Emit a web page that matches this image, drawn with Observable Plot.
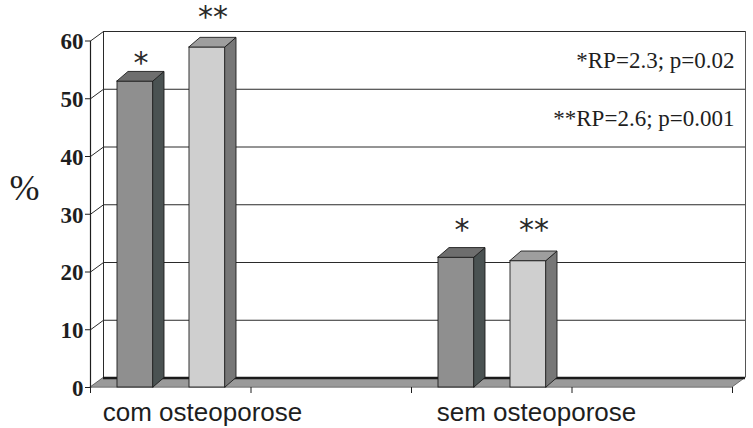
<!DOCTYPE html>
<html>
<head>
<meta charset="utf-8">
<script src="https://cdn.jsdelivr.net/npm/d3@7"></script>
<script src="https://cdn.jsdelivr.net/npm/@observablehq/plot@0.6"></script>
<style>
  html, body { margin: 0; padding: 0; background: #fff; }
  #chart svg { display: block; }
</style>
</head>
<body>
<div id="chart"></div>
<script>
// ---- data ----
const categories = ["com osteoporose", "sem osteoporose"];
const seriesMarks = ["*", "**"];
const seriesDark = [53.0, 22.5];   // first bar of each group (dark grey)
const seriesLight = [58.9, 21.9];  // second bar of each group (light grey)
const yTicks = [0, 10, 20, 30, 40, 50, 60];
const notes = ["*RP=2.3; p=0.02", "**RP=2.6; p=0.001"];

// ---- layout constants (style, not data) ----
const SLOTS = 4;                 // two category slots of width 2
const PX_PER_SLOT = 642 / SLOTS;
const PX_PER_UNIT = 346.5 / 60;
const WDX = 13 / PX_PER_SLOT, WDY = 9.5 / PX_PER_UNIT;   // wall depth
const BDX = 11 / PX_PER_SLOT, BDY = 9.5 / PX_PER_UNIT;   // bar depth
const barOffset = [27 / PX_PER_SLOT, 99 / PX_PER_SLOT];
const barWidth = 36 / PX_PER_SLOT;
const starOffset = [[4.0, 6.0], [5.5, 6.1]];
const labelCenter = [112 / PX_PER_SLOT, 125 / PX_PER_SLOT];
const colors = [
  {front: "#8f8f8f", top: "#6e6e6e", side: "#4a5252"},
  {front: "#cfcfcf", top: "#9e9e9e", side: "#777777"}
];

const seriesValues = [seriesDark, seriesLight];
const bars = [];
categories.forEach((c, i) => {
  seriesValues.forEach((vals, s) => {
    const x1 = 2 * i + barOffset[s];
    bars.push({cat: c, i, s, v: vals[i], x1, x2: x1 + barWidth, id: i + "-" + s});
  });
});

const barMarks = [];
[0, 1].forEach(s => {
  const bs = bars.filter(b => b.s === s);
  const side = bs.flatMap(b => [
    {id: b.id, x: b.x2, y1: 0, y2: b.v},
    {id: b.id, x: b.x2 + BDX, y1: BDY, y2: b.v + BDY}
  ]);
  const top = bs.flatMap(b => [
    {id: b.id, y: b.v, x1: b.x1, x2: b.x2},
    {id: b.id, y: b.v + BDY, x1: b.x1 + BDX, x2: b.x2 + BDX}
  ]);
  barMarks.push(
    Plot.rect(bs, {x1: "x1", x2: "x2", y1: 0, y2: "v", fill: colors[s].front, stroke: "#1e1e1e", strokeWidth: 0.9}),
    Plot.areaY(side, {x: "x", y1: "y1", y2: "y2", z: "id", fill: colors[s].side, stroke: "#1e1e1e", strokeWidth: 0.9}),
    Plot.areaX(top, {y: "y", x1: "x1", x2: "x2", z: "id", fill: colors[s].top, stroke: "#1e1e1e", strokeWidth: 0.9})
  );
});

const chart = Plot.plot({
  width: 753,
  height: 428,
  marginLeft: 90,
  marginRight: 21,
  marginTop: 40.5,
  marginBottom: 41,
  style: {background: "#fff", color: "#1e1e1e", overflow: "visible"},
  x: {domain: [0, SLOTS], axis: null},
  y: {domain: [0, 60], axis: null},
  marks: [
    // back wall grid lines and edges
    Plot.ruleY(yTicks.slice(1), {y: d => d + WDY, x1: WDX, x2: SLOTS + WDX, stroke: "#2a2a2a", strokeWidth: 1}),
    Plot.ruleX([WDX], {y1: WDY, y2: 60 + WDY, stroke: "#2a2a2a", strokeWidth: 1}),
    Plot.ruleX([SLOTS + WDX], {y1: WDY, y2: 60 + WDY, stroke: "#555", strokeWidth: 1}),
    // left-wall connectors
    Plot.link(yTicks, {x1: 0, y1: d => d, x2: WDX, y2: d => d + WDY, stroke: "#2a2a2a", strokeWidth: 1}),
    // floor
    Plot.areaX([{y: 0, x1: 0, x2: SLOTS}, {y: WDY, x1: WDX, x2: SLOTS + WDX}],
      {y: "y", x1: "x1", x2: "x2", fill: "#9a9a9a", stroke: "#555", strokeWidth: 0.8}),
    Plot.ruleY([WDY], {x1: WDX, x2: SLOTS + WDX, stroke: "#1a1a1a", strokeWidth: 2.5}),
    // front value axis
    Plot.ruleX([0], {y1: 0, y2: 60, stroke: "#1e1e1e", strokeWidth: 1.2}),
    Plot.axisY({ticks: yTicks, tickSize: 5, tickFormat: () => "", label: null}),
    Plot.text(yTicks, {x: 0, y: d => d, dx: -7, dy: 1, textAnchor: "end", text: d => String(d),
      fontSize: 23, fontWeight: "bold", fontFamily: "Liberation Serif", fill: "#1e1e1e"}),
    Plot.axisX({ticks: [0, 1, 2, 3, 4], tickSize: 6, tickFormat: () => "", label: null}),
    // bars
    ...barMarks,
    // significance marks above bars
    Plot.text(bars, {x: d => (d.x1 + d.x2) / 2 + BDX / 2, y: d => d.v + starOffset[d.i][d.s],
      text: d => seriesMarks[d.s], fontSize: 30, fontFamily: "DejaVu Sans", lineAnchor: "top", dy: -7, fill: "#2a2a2a"}),
    // notes
    Plot.text(notes, {x: SLOTS + WDX, y: (d, i) => [55, 45][i] + WDY, dx: -11, textAnchor: "end",
      fontSize: 23, fontFamily: "Liberation Serif", fill: "#1e1e1e"}),
    // category labels
    Plot.text(categories, {x: (d, i) => 2 * i + labelCenter[i], y: 0, dy: 33, lineAnchor: "bottom",
      fontSize: 26, fontFamily: "Liberation Sans", fill: "#1e1e1e"}),
    // axis unit
    Plot.text(["%"], {frameAnchor: "left", textAnchor: "middle", dx: -66, dy: -26, fontSize: 36,
      fontFamily: "Liberation Serif", fill: "#1e1e1e"})
  ]
});
document.getElementById("chart").appendChild(chart);
</script>
</body>
</html>
